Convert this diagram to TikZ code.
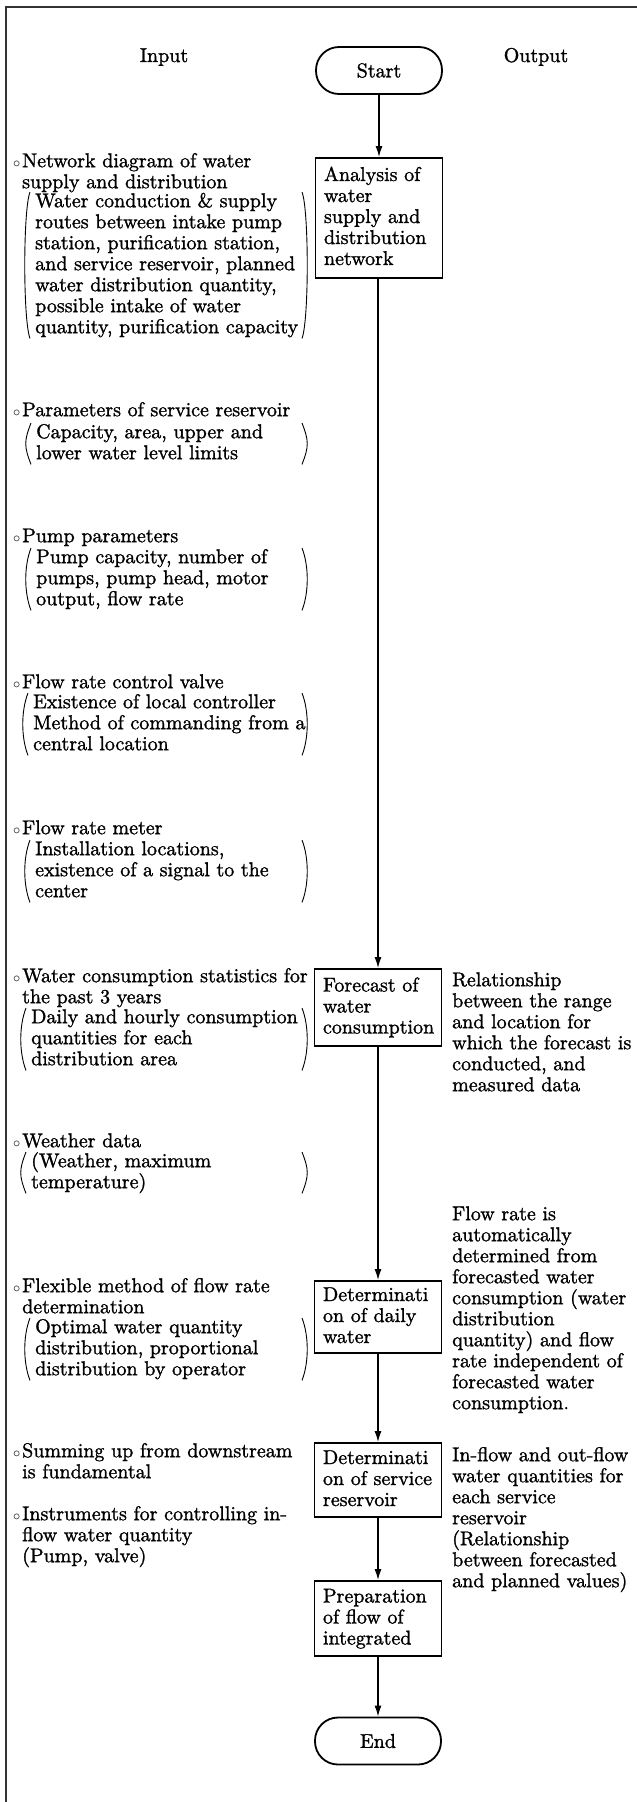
\documentclass[tikz,border=0pt]{standalone}
\usetikzlibrary{arrows.meta}
\DeclareFontFamily{TU}{lmrten}{}
\DeclareFontShape{TU}{lmrten}{m}{n}{<-> "[lmroman10-regular]:mapping=tex-text;embolden=1.3"}{}
\newcommand\myfont{\fontfamily{lmrten}\fontsize{20}{21}\selectfont}
\newcommand\mytop{\rule{0pt}{15pt}}
\newcommand\mybot{\rule[-5pt]{0pt}{5pt}}
\newcommand\mybul{\makebox[9pt][l]{$\scriptstyle\circ$}}
\newcommand\myind{\hspace*{9pt}}
\begin{document}
\begin{tikzpicture}[x=1pt,y=-1pt,
  txt/.style={inner sep=0pt, align=left, anchor=north west, font=\myfont},
  proc/.style={draw, line width=1.8pt, text width=110pt, inner xsep=8.5pt, inner ysep=0pt, align=left, minimum height=#1, font=\myfont},
  term/.style={draw, line width=1.8pt, rounded corners=23pt, minimum width=126pt, minimum height=47pt, font=\myfont},
  flow/.style={line width=1.5pt, -{Latex[length=11pt,width=7pt]}},
  paren/.style={line width=0.9pt},
  frame/.style={line width=1.3pt, black!80}]
\useasboundingbox (0,0) rectangle (637,1802);
\draw[frame] (6,1802) -- (6,7) -- (637,7);
\coordinate (rp) at (302,0);

% headers
\node[txt, anchor=base] (inp) at (164,62) {Input};
\node[txt, anchor=base] (outp) at (536,62) {Output};

% flow chart
\node[term] (start) at (379,70.5) {Start};
\node[proc=120pt] (b1) at (379,218) {\mytop Analysis of\\water\\supply and\\distribution\\network\mybot};
\node[proc=77pt] (b2) at (378,1007.5) {\mytop Forecast of\\water\\\mbox{consumption}\mybot};
\node[proc=72pt] (b3) at (378,1317) {\mytop Determinati\\on of daily\\water\mybot};
\node[proc=74pt] (b4) at (378,1480) {\mytop Determinati\\on of service\\reservoir\mybot};
\node[proc=75pt] (b5) at (378,1618.5) {\mytop Preparation\\of flow of\\integrated\mybot};
\node[term] (end) at (378,1741) {End};

\draw[flow] (start) -- (b1);
\draw[flow] (b1.south -| b2.north) -- (b2);
\draw[flow] (b2) -- (b3);
\draw[flow] (b3) -- (b4);
\draw[flow] (b4) -- (b5);
\draw[flow] (b5) -- (end);

% inputs
\node[txt] (h1) at (13,152) {\mytop\mybul Network diagram of water\\\myind supply and distribution};
\node[txt] (p1) at (35,192) {\mytop Water conduction \& supply\\routes between intake pump\\station, purification station,\\and service reservoir, planned\\water distribution quantity,\\possible intake of water\\quantity, purification capacity\mybot};
\node[txt] (h2) at (13,401) {\mytop\mybul Parameters of service reservoir};
\node[txt] (p2) at (36,423) {\mytop Capacity, area, upper and\\lower water level limits\mybot};
\node[txt] (h3) at (13,527) {\mytop\mybul Pump parameters};
\node[txt] (p3) at (36,548) {\mytop Pump capacity, number of\\pumps, pump head, motor\\output, flow rate\mybot};
\node[txt] (h4) at (13,673) {\mytop\mybul Flow rate control valve};
\node[txt] (p4) at (33,693) {\mytop Existence of local controller\\Method of commanding from a\\central location\mybot};
\node[txt] (h5) at (13,819) {\mytop\mybul Flow rate meter};
\node[txt] (p5) at (35,840) {\mytop Installation locations,\\existence of a signal to the\\center\mybot};
\node[txt] (h6) at (13,967) {\mytop\mybul Water consumption statistics for\\\myind the past 3 years};
\node[txt] (p6) at (31,1008) {\mytop Daily and hourly consumption\\quantities for each\\distribution area\mybot};
\node[txt] (h7) at (13,1132) {\mytop\mybul Weather data};
\node[txt] (p7) at (31,1152) {\mytop (Weather, maximum\\temperature)\mybot};
\node[txt] (h8) at (13,1277) {\mytop\mybul Flexible method of flow rate\\\myind determination};
\node[txt] (p8) at (35,1318) {\mytop Optimal water quantity\\distribution, proportional\\distribution by operator\mybot};
\node[txt] (h9) at (13,1442) {\mytop\mybul Summing up from downstream\\\myind is fundamental};
\node[txt] (h10) at (13,1505) {\mytop\mybul Instruments for controlling in-\\\myind flow water quantity\\\myind (Pump, valve)};

\foreach \p in {p1,p2,p3,p4,p5,p6,p7,p8}{
  \draw[paren] ([xshift=-5pt]\p.north west) .. controls +(-7,18) and +(-7,-18) .. ([xshift=-5pt]\p.south west);
  \draw[paren] (\p.north west -| rp) .. controls +(7,18) and +(7,-18) .. (\p.south west -| rp);
}

% outputs
\node[txt] (o1) at (452,971) {\mytop Relationship\\between the range\\and location for\\which the forecast is\\conducted, and\\measured data};
\node[txt] (o2) at (452,1205) {\mytop Flow rate is\\automatically\\determined from\\forecasted water\\consumption (water\\distribution\\quantity) and flow\\rate independent of\\forecasted water\\consumption.};
\node[txt] (o3) at (452,1446) {\mytop In-flow and out-flow\\water quantities for\\each service\\reservoir\\(Relationship\\between forecasted\\and planned values)};
\end{tikzpicture}
\end{document}
